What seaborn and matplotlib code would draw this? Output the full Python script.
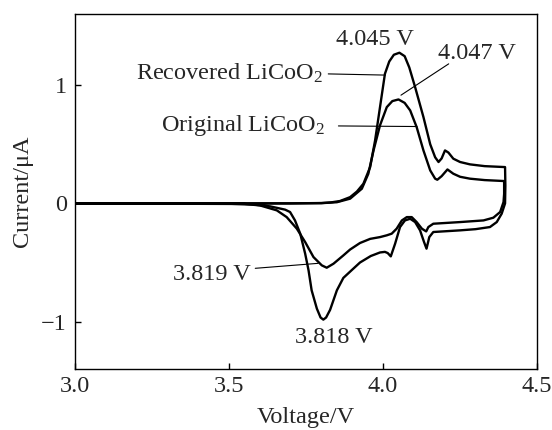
import matplotlib
matplotlib.use('Agg')
import matplotlib.pyplot as plt
import seaborn as sns
import pandas as pd

# recovered LiCoO2: anodic sweep 3.0 -> 4.4 V, then cathodic back to 3.0 V
recovered_v = [3.00, 3.50, 3.70, 3.80, 3.83, 3.86, 3.893, 3.915, 3.936, 3.958,
               3.974, 3.990, 4.006, 4.020, 4.035, 4.053, 4.070, 4.085, 4.104, 4.131,
               4.153, 4.169, 4.180, 4.190, 4.201, 4.212, 4.228, 4.250, 4.282, 4.330,
               4.396,
               4.397, 4.396, 4.385, 4.369, 4.347, 4.300, 4.250, 4.163, 4.150, 4.141,
               4.133, 4.120, 4.104, 4.088, 4.071, 4.055, 4.039, 4.025, 4.015, 4.006,
               3.990, 3.960, 3.925, 3.900, 3.871, 3.850, 3.828, 3.815, 3.806, 3.797,
               3.785, 3.768, 3.758, 3.747, 3.731, 3.714, 3.698, 3.682, 3.633, 3.580,
               3.500, 3.000]
recovered_i = [0.0, 0.0, 0.0, 0.003, 0.008, 0.02, 0.053, 0.10, 0.166, 0.307,
               0.532, 0.814, 1.096, 1.20, 1.257, 1.274, 1.245, 1.15, 0.983, 0.73,
               0.50, 0.39, 0.35, 0.38, 0.448, 0.43, 0.378, 0.35, 0.33, 0.315,
               0.307,
               0.15, 0.0, -0.087, -0.158, -0.20, -0.218, -0.228, -0.242, -0.285, -0.383,
               -0.327, -0.228, -0.158, -0.130, -0.144, -0.20, -0.341, -0.448, -0.42, -0.41,
               -0.415, -0.445, -0.50, -0.56, -0.63, -0.735, -0.90, -0.965, -0.983, -0.965,
               -0.89, -0.735, -0.566, -0.425, -0.256, -0.144, -0.073, -0.053, -0.025, -0.01,
               -0.003, 0.0]

# original LiCoO2
original_v = [3.00, 3.50, 3.70, 3.80, 3.85, 3.893, 3.931, 3.952, 3.969, 3.990,
              4.012, 4.030, 4.050, 4.070, 4.088, 4.109, 4.131, 4.153, 4.169, 4.176,
              4.190, 4.209, 4.228, 4.250, 4.282, 4.330, 4.393,
              4.393, 4.391, 4.380, 4.358, 4.326, 4.250, 4.163, 4.147, 4.140, 4.126,
              4.109, 4.093, 4.077, 4.061, 4.044, 4.028, 4.012, 3.990, 3.958, 3.925,
              3.893, 3.871, 3.839, 3.817, 3.801, 3.774, 3.747, 3.720, 3.687, 3.655,
              3.600, 3.550, 3.000]
original_i = [0.0, 0.0, 0.0, 0.002, 0.01, 0.04, 0.124, 0.25, 0.448, 0.66,
              0.814, 0.865, 0.879, 0.85, 0.786, 0.645, 0.448, 0.279, 0.209, 0.20,
              0.23, 0.287, 0.251, 0.225, 0.209, 0.197, 0.189,
              0.08, 0.011, -0.073, -0.121, -0.144, -0.158, -0.172, -0.20, -0.237, -0.214,
              -0.158, -0.116, -0.116, -0.144, -0.214, -0.256, -0.27, -0.285, -0.30, -0.335,
              -0.39, -0.44, -0.51, -0.544, -0.524, -0.454, -0.327, -0.214, -0.116, -0.059,
              -0.017, -0.005, 0.0]

x_ticks = [3.0, 3.5, 4.0, 4.5]
x_tick_labels = ['3.0', '3.5', '4.0', '4.5']
y_ticks = [-1, 0, 1]
y_tick_labels = ['\u22121', '0', '1']

sns.set_style('ticks')
plt.rcParams['font.family'] = ['Liberation Serif', 'DejaVu Serif']
plt.rcParams['mathtext.fontset'] = 'custom'
plt.rcParams['mathtext.rm'] = 'Liberation Serif'
plt.rcParams['mathtext.it'] = 'Liberation Serif:italic'

df = pd.concat([
    pd.DataFrame({'Voltage': recovered_v, 'Current': recovered_i, 'sample': 'Recovered'}),
    pd.DataFrame({'Voltage': original_v, 'Current': original_i, 'sample': 'Original'}),
])

fig = plt.figure(figsize=(5.52, 4.30), dpi=100)
ax = fig.add_axes([0.136, 0.142, 0.837, 0.825])

for name, grp in df.groupby('sample'):
    sns.lineplot(data=grp, x='Voltage', y='Current', sort=False, estimator=None,
                 color='black', linewidth=1.7, ax=ax, legend=False)

fs = 17.5
# (text, text xy, leader start, leader end)
labels = [
    ('4.045 V', (3.972, 1.39), None, None),
    ('4.047 V', (4.305, 1.27), (4.213, 1.18), (4.058, 0.915)),
    ('Recovered LiCoO$_2$', (3.50, 1.10), (3.822, 1.095), (4.007, 1.085)),
    ('Original LiCoO$_2$', (3.545, 0.66), (3.855, 0.655), (4.110, 0.650)),
    ('3.819 V', (3.445, -0.60), (3.585, -0.549), (3.789, -0.507)),
    ('3.818 V', (3.841, -1.13), None, None),
]
for txt, pos, p0, p1 in labels:
    ax.text(pos[0], pos[1], txt, ha='center', va='center', fontsize=fs)
    if p0 is not None:
        ax.plot([p0[0], p1[0]], [p0[1], p1[1]], color='black', lw=0.8)

ax.set_xlim(3.0, 4.5)
ax.set_ylim(-1.4, 1.6)
ax.set_xticks(x_ticks)
ax.set_xticklabels(x_tick_labels)
ax.set_yticks(y_ticks)
ax.set_yticklabels(y_tick_labels)
ax.tick_params(direction='in', length=4, width=1, labelsize=fs, color='black')
ax.tick_params(axis='y', pad=6)
ax.tick_params(axis='x', pad=5)
ax.set_xlabel('Voltage/V', fontsize=fs, labelpad=7)
ax.set_ylabel('Current/\u03bcA', fontsize=fs, labelpad=6)
for s in ax.spines.values():
    s.set_color('black')
    s.set_linewidth(1.0)

fig.savefig('out.png', dpi=100)
plt.close(fig)
